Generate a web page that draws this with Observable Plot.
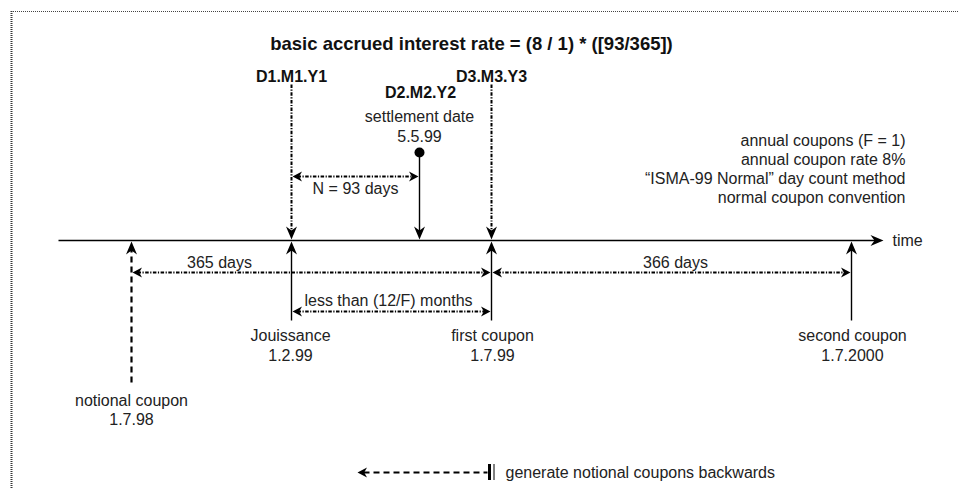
<!DOCTYPE html>
<html><head><meta charset="utf-8">
<script src="https://cdn.jsdelivr.net/npm/d3@7"></script>
<script src="https://cdn.jsdelivr.net/npm/@observablehq/plot@0.6"></script>
<style>html,body{margin:0;padding:0;background:#fff;}</style>
</head><body><div id="chart"></div>
<script>
// ---------- data (text content of the diagram) ----------
const title = "basic accrued interest rate = (8 / 1) * ([93/365])";
const eventNames = ["notional coupon", "Jouissance", "settlement date", "first coupon", "second coupon"];
const eventDates = ["1.7.98", "1.2.99", "5.5.99", "1.7.99", "1.7.2000"];
const dateCodes = ["D1.M1.Y1", "D2.M2.Y2", "D3.M3.Y3"];
const periodLabels = ["365 days", "366 days", "less than (12/F) months", "N = 93 days"];
const notes = ["annual coupons (F = 1)", "annual coupon rate 8%", "\u201CISMA-99 Normal\u201D day count method", "normal coupon convention"];
const axisLabel = "time";
const legendLabel = "generate notional coupons backwards";

// ---------- layout (diagram coordinates) ----------
const W = 958, H = 488;
const axisY = 240, axisX0 = 58, axisX1 = 883;
const ex = [131, 291, 419, 491, 851]; // notional, jouissance, settlement, first, second
const [xN, xJ, xS, xF, xC2] = ex;
const upperTop = 84, lowerBottom = 320, notionalBottom = 382, settleDotY = 152;
const yN93 = 176, yYear = 272, yLess = 311, yLegend = 472;

// arrowhead symbol: tip at origin, pointing up
function head(len, half, notch) {
  return { draw(ctx) {
    ctx.moveTo(0, 0);
    ctx.lineTo(half, len);
    ctx.lineTo(0, len - notch);
    ctx.lineTo(-half, len);
    ctx.closePath();
  }};
}
const bigHead = head(13, 5.5, 4);
const smallHead = head(9.5, 5, 2.8);

const solidSegs = [
  {x1: axisX0, y1: axisY, x2: axisX1 - 8, y2: axisY},
  {x1: xJ, y1: lowerBottom, x2: xJ, y2: axisY + 8},
  {x1: xF, y1: lowerBottom, x2: xF, y2: axisY + 8},
  {x1: xC2, y1: lowerBottom, x2: xC2, y2: axisY + 8},
  {x1: xS, y1: settleDotY, x2: xS, y2: axisY - 8}
];
const dottedSegs = [
  {x1: xJ, y1: upperTop, x2: xJ, y2: axisY - 8},
  {x1: xF, y1: upperTop, x2: xF, y2: axisY - 8},
  {x1: xJ + 6, y1: yN93, x2: xS - 6, y2: yN93},
  {x1: xN + 6, y1: yYear, x2: xF - 6, y2: yYear},
  {x1: xF + 6, y1: yYear, x2: xC2 - 6, y2: yYear},
  {x1: xJ + 6, y1: yLess, x2: xF - 6, y2: yLess}
];
const dashedSegs = [
  {x1: xN, y1: notionalBottom, x2: xN, y2: axisY + 8},
  {x1: 363, y1: yLegend, x2: 487, y2: yLegend}
];
const bigHeads = [
  {x: axisX1, y: axisY, r: 90},
  {x: xN, y: axisY + 1, r: 0},
  {x: xJ, y: axisY + 1, r: 0},
  {x: xJ, y: axisY - 1, r: 180},
  {x: xS, y: axisY - 1, r: 180},
  {x: xF, y: axisY + 1, r: 0},
  {x: xF, y: axisY - 1, r: 180},
  {x: xC2, y: axisY + 1, r: 0}
];
const smallHeads = [
  {x: xJ + 1, y: yN93, r: -90}, {x: xS - 1, y: yN93, r: 90},
  {x: xN + 1, y: yYear, r: -90}, {x: xF - 1, y: yYear, r: 90},
  {x: xF + 1, y: yYear, r: -90}, {x: xC2 - 1, y: yYear, r: 90},
  {x: xJ + 1, y: yLess, r: -90}, {x: xF - 1, y: yLess, r: 90},
  {x: 357, y: yLegend, r: -90}
];

const titleText = [{x: 471, y: 44, t: title}];
const boldTexts = [
  {x: xJ, y: 76, t: dateCodes[0]},
  {x: 420, y: 92, t: dateCodes[1]},
  {x: xF, y: 76, t: dateCodes[2]}
];
const eventLabelPos = [[xN, 400], [xJ - 1, 335], [xS, 116], [xF + 1, 335], [xC2 + 1, 335]];
const plainTexts = [];
eventNames.forEach((n, i) => {
  const [x, y] = eventLabelPos[i];
  plainTexts.push({x, y, t: n});
  plainTexts.push({x, y: y + (i === 0 ? 19 : 20), t: eventDates[i]});
});
const periodPos = [[219, 262], [675, 262], [388, 300], [355, 188]];
periodLabels.forEach((p, i) => plainTexts.push({x: periodPos[i][0], y: periodPos[i][1], t: p}));
const noteTexts = notes.map((n, i) => ({x: 905, y: 140 + i * 19.2, t: n}));
const startTexts = [{x: 892, y: axisY, t: axisLabel}, {x: 505, y: yLegend, t: legendLabel}];

const font = "'Liberation Sans', Arial, sans-serif";
const dotPattern = "3.5,1.5,1.2,1.5";

const chart = Plot.plot({
  width: W, height: H,
  margin: 0,
  x: {domain: [0, W], range: [0, W], axis: null},
  y: {domain: [0, H], range: [0, H], axis: null},
  style: {fontFamily: font, fontSize: "16px", background: "#fff", color: "#000"},
  marks: [
    // frame (dotted)
    Plot.ruleY([11], {x1: 11, x2: W, stroke: "#444", strokeWidth: 1, strokeDasharray: "1,1"}),
    Plot.ruleX([11], {y1: 11, y2: H, stroke: "#333", strokeWidth: 2, strokeDasharray: "1,1"}),
    // lines
    Plot.link(solidSegs, {x1: "x1", y1: "y1", x2: "x2", y2: "y2", stroke: "#000", strokeWidth: 1.4}),
    Plot.link(dottedSegs, {x1: "x1", y1: "y1", x2: "x2", y2: "y2", stroke: "#000", strokeWidth: 2, strokeDasharray: dotPattern}),
    Plot.link(dashedSegs, {x1: "x1", y1: "y1", x2: "x2", y2: "y2", stroke: "#000", strokeWidth: 2.2, strokeDasharray: "6,4"}),
    // legend end bar
    Plot.ruleX([489], {y1: yLegend - 8, y2: yLegend + 8, stroke: "#000", strokeWidth: 3}),
    Plot.ruleX([493.5], {y1: yLegend - 8, y2: yLegend + 8, stroke: "#000", strokeWidth: 1}),
    // arrowheads
    Plot.dot(bigHeads, {x: "x", y: "y", rotate: "r", symbol: bigHead, fill: "#000", stroke: "none"}),
    Plot.dot(smallHeads, {x: "x", y: "y", rotate: "r", symbol: smallHead, fill: "#000", stroke: "none"}),
    // settlement dot
    Plot.dot([{x: xS, y: settleDotY}], {x: "x", y: "y", r: 5, fill: "#000", stroke: "none"}),
    // texts
    Plot.text(titleText, {x: "x", y: "y", text: "t", fontSize: 18.5, fontWeight: "bold", fill: "#111"}),
    Plot.text(boldTexts, {x: "x", y: "y", text: "t", fontSize: 16, fontWeight: "bold", fill: "#111"}),
    Plot.text(plainTexts, {x: "x", y: "y", text: "t", fontSize: 16, fill: "#222"}),
    Plot.text(noteTexts, {x: "x", y: "y", text: "t", fontSize: 16, fill: "#222", textAnchor: "end"}),
    Plot.text(startTexts, {x: "x", y: "y", text: "t", fontSize: 16, fill: "#222", textAnchor: "start"})
  ]
});
document.getElementById("chart").appendChild(chart);
</script>
</body></html>
